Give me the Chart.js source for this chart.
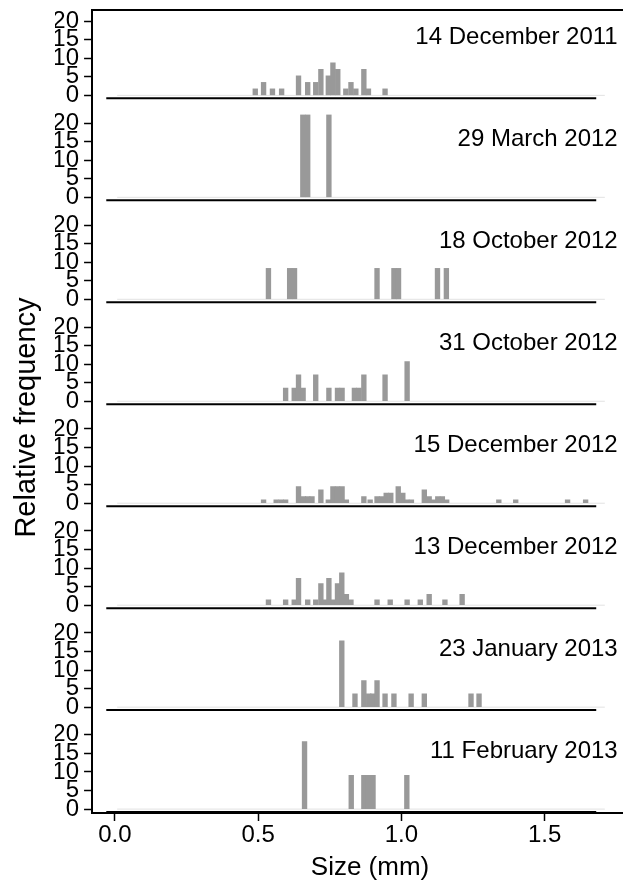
<!DOCTYPE html>
<html>
<head>
<meta charset="utf-8">
<script src="https://cdn.jsdelivr.net/npm/chart.js@4.4.1/dist/chart.umd.min.js"></script>
<style>
  body { margin: 0; background: #fff; overflow: hidden; }
  canvas { display: block; }
</style>
</head>
<body>
<canvas id="sizeChart" width="648" height="882"></canvas>
<script>
// one panel per sampling date, top to bottom
const dates = ['14 December 2011', '29 March 2012', '18 October 2012', '31 October 2012',
  '15 December 2012', '13 December 2012', '23 January 2013', '11 February 2013'];

// bin centre (mm) and relative frequency (%) for each date
const size1 = [0.490, 0.519, 0.550, 0.582, 0.641, 0.673, 0.701, 0.719, 0.745, 0.761, 0.778, 0.806, 0.824, 0.841, 0.869, 0.885, 0.943];
const freq1 = [1.75, 3.5, 1.75, 1.75, 5.26, 3.5, 3.5, 7.02, 5.26, 8.77, 7.02, 1.75, 3.5, 1.75, 7.02, 1.75, 1.75];

const size2 = [0.656, 0.673, 0.747];
const freq2 = [22.2, 22.2, 22.2];

const size3 = [0.536, 0.610, 0.627, 0.915, 0.974, 0.990, 1.126, 1.157];
const freq3 = [8.33, 8.33, 8.33, 8.33, 8.33, 8.33, 8.33, 8.33];

const size4 = [0.596, 0.626, 0.641, 0.657, 0.701, 0.747, 0.777, 0.793, 0.836, 0.852, 0.869, 0.943, 1.020];
const freq4 = [3.57, 3.57, 7.14, 3.57, 7.14, 3.57, 3.57, 3.57, 3.57, 3.57, 7.14, 7.14, 10.71];

const size5 = [0.519, 0.563, 0.580, 0.596, 0.641, 0.658, 0.673, 0.688, 0.719, 0.745, 0.761, 0.777, 0.793, 0.808,
  0.869, 0.891, 0.915, 0.931, 0.947, 0.963, 0.989, 1.005, 1.019, 1.035, 1.080, 1.097, 1.112, 1.127, 1.143, 1.158,
  1.340, 1.399, 1.580, 1.643];
const freq5 = [0.9, 0.9, 0.9, 0.9, 4.5, 1.8, 1.8, 1.8, 3.6, 0.9, 4.5, 4.5, 4.5, 0.9,
  1.8, 0.9, 1.8, 1.8, 2.7, 2.7, 4.5, 2.7, 0.9, 0.9, 3.6, 1.8, 0.9, 1.8, 1.8, 0.9,
  0.9, 0.9, 0.9, 0.9];

const size6 = [0.536, 0.596, 0.626, 0.641, 0.673, 0.701, 0.719, 0.733, 0.747, 0.763, 0.777, 0.792, 0.808, 0.824,
  0.915, 0.961, 1.020, 1.066, 1.097, 1.152, 1.212];
const freq6 = [1.45, 1.45, 1.45, 7.25, 1.45, 1.45, 5.8, 1.45, 7.25, 1.45, 5.8, 8.7, 2.9, 1.45,
  1.45, 1.45, 1.45, 1.45, 2.9, 1.45, 2.9];

const size7 = [0.792, 0.838, 0.869, 0.886, 0.900, 0.915, 0.943, 0.974, 1.034, 1.080, 1.243, 1.271];
const freq7 = [17.86, 3.57, 7.14, 3.57, 3.57, 7.14, 3.57, 3.57, 3.57, 3.57, 3.57, 3.57];

const size8 = [0.662, 0.825, 0.869, 0.885, 0.901, 1.019];
const freq8 = [18.18, 9.09, 9.09, 9.09, 9.09, 9.09];

const xTicks = [0, 0.5, 1.0, 1.5];
const yTicks = [0, 5, 10, 15, 20];

const sizeSets = [size1, size2, size3, size4, size5, size6, size7, size8];
const freqSets = [freq1, freq2, freq3, freq4, freq5, freq6, freq7, freq8];

const fontFamily = "'Liberation Sans', Arial, Helvetica, sans-serif";
Chart.defaults.font.family = fontFamily;
Chart.defaults.color = '#000';

// drop the label overflow padding so panels sit where they should
const noPad = (scale) => {
  scale.paddingTop = 0; scale.paddingBottom = 0;
  scale.paddingLeft = 0; scale.paddingRight = 0;
};

const datasets = [];
const scales = {
  x: {
    type: 'linear',
    position: 'bottom',
    min: -0.0796,
    max: 1.8607,
    offset: false,
    border: { display: true, color: '#000', width: 2 },
    grid: { offset: false, drawOnChartArea: false, drawTicks: true, tickLength: 8, tickColor: '#000', tickWidth: 1.5 },
    ticks: { padding: 2, color: '#000', font: { size: 24, lineHeight: 1 }, callback: (v) => Number(v).toFixed(1) },
    afterBuildTicks: (axis) => { axis.ticks = xTicks.map(v => ({ value: v })); },
    afterFit: noPad,
    title: { display: true, text: 'Size (mm)', color: '#000', font: { size: 26, lineHeight: 1 }, padding: { top: 6, bottom: 0 } }
  }
};

dates.forEach((d, i) => {
  const id = 'y' + i;
  const last = i === dates.length - 1;
  scales[id] = {
    type: 'linear',
    position: 'left',
    stack: 'panels',
    stackWeight: last ? 24.05 : 27.47,
    weight: dates.length - i,
    min: last ? -1.05 : -4.47,
    max: 23.0,
    offset: false,
    border: { display: true, color: '#000', width: 2 },
    grid: { drawOnChartArea: false, drawTicks: true, tickLength: 8, tickColor: '#000', tickWidth: 1.5 },
    ticks: { autoSkip: false, padding: 5, color: '#000', font: { size: 24, lineHeight: 1 } },
    afterBuildTicks: (axis) => { axis.ticks = yTicks.map(v => ({ value: v })); },
    afterFit: noPad
  };

  // light zero line under the bars
  datasets.push({
    type: 'line', yAxisID: id, order: 3,
    data: [{ x: 0.008, y: 0 }, { x: 1.71, y: 0 }],
    borderColor: '#e2e2e2', borderWidth: 1, pointRadius: 0
  });
  datasets.push({
    type: 'bar', yAxisID: id, order: 2,
    data: sizeSets[i].map((s, k) => ({ x: s, y: freqSets[i][k] })),
    backgroundColor: '#999999', borderWidth: 0,
    barThickness: 4.7, grouped: false
  });
  // black baseline of each panel
  datasets.push({
    type: 'line', yAxisID: id, order: 1,
    data: [{ x: -0.03, y: -0.8 }, { x: 1.68, y: -0.8 }],
    borderColor: '#000', borderWidth: 2, pointRadius: 0
  });
});

const panelText = {
  id: 'panelText',
  afterDraw(chart) {
    const ctx = chart.ctx;
    const area = chart.chartArea;
    const xs = chart.scales.x;
    ctx.save();
    // top frame line
    ctx.strokeStyle = '#000';
    ctx.lineWidth = 2;
    ctx.beginPath();
    ctx.moveTo(area.left - 1, area.top);
    ctx.lineTo(chart.width, area.top);
    ctx.stroke();

    ctx.fillStyle = '#000';
    ctx.font = '24px ' + fontFamily;
    ctx.textAlign = 'right';
    ctx.textBaseline = 'middle';
    dates.forEach((d, i) => {
      ctx.fillText(d, xs.getPixelForValue(1.755), chart.scales['y' + i].getPixelForValue(15.6));
    });

    // shared y axis title
    ctx.font = '29px ' + fontFamily;
    ctx.translate(27, (area.top + area.bottom) / 2 + 6);
    ctx.rotate(-Math.PI / 2);
    ctx.textAlign = 'center';
    ctx.fillText('Relative frequency', 0, 0);
    ctx.restore();
  }
};

const ctx = document.getElementById('sizeChart').getContext('2d');
const sizeChart = new Chart(ctx, {
  type: 'bar',
  data: { datasets: datasets },
  options: {
    responsive: false,
    animation: false,
    events: [],
    layout: { padding: { left: 55, top: 10, right: 0, bottom: 1 } },
    plugins: { legend: { display: false }, tooltip: { enabled: false } },
    scales: scales
  },
  plugins: [panelText]
});
</script>
</body>
</html>
